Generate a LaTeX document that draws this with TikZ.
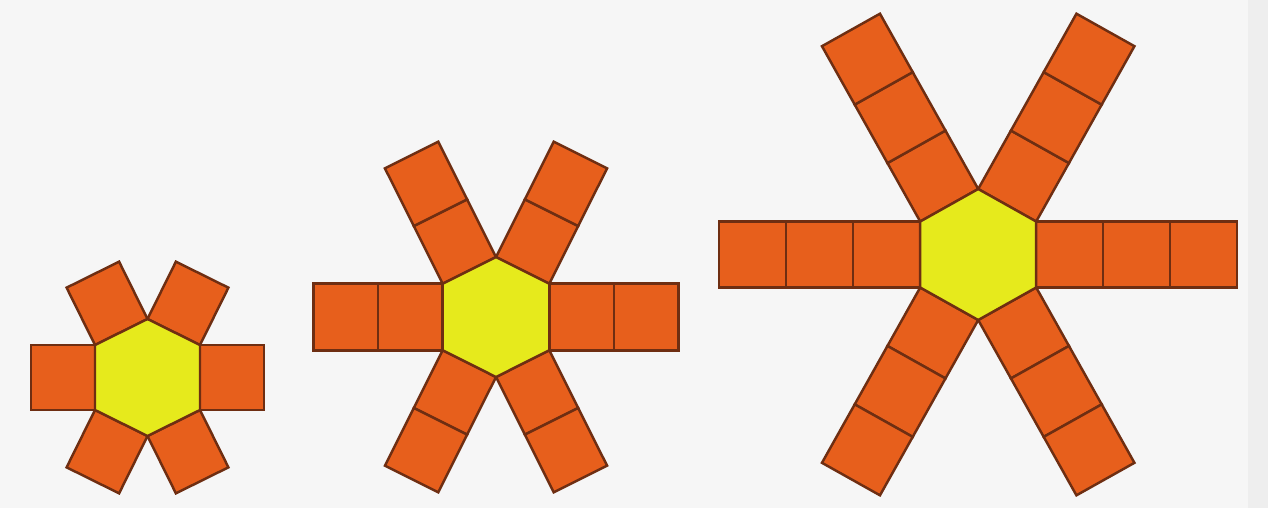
\documentclass[tikz,border=0pt]{standalone}
\usetikzlibrary{calc}
\definecolor{bgc}{HTML}{F6F6F6}
\definecolor{bgstrip}{HTML}{EEEEEE}
\definecolor{orangefill}{HTML}{E75F1C}
\definecolor{edgec}{HTML}{6E2E12}
\definecolor{hexfill}{HTML}{E6EA1C}
\tikzset{
  sqbox/.style={fill=orangefill, draw=edgec, line width=1.4pt, line join=miter},
  hexbox/.style={fill=hexfill, draw=edgec, line width=1.4pt, line join=miter}
}
\begin{document}
\begin{tikzpicture}[x=0.02cm,y=-0.02cm]
\useasboundingbox (0,0) rectangle (1268,508);
\fill[bgc] (0,0) rectangle (1268,508);
\fill[bgstrip] (1248,0) rectangle (1268,508);
\foreach \cx/\cy/\a/\h/\t/\L/\n in {147.5/377.5/52.5/32.5/58.5/64/1, 496/317/53.3/33.3/60/64.5/2, 978.2/254.5/58/33/65.5/67/3}{
  \coordinate (v1) at ({\cx-\a},{\cy-\h});
  \coordinate (v2) at ({\cx},{\cy-\t});
  \coordinate (v3) at ({\cx+\a},{\cy-\h});
  \coordinate (v4) at ({\cx+\a},{\cy+\h});
  \coordinate (v5) at ({\cx},{\cy+\t});
  \coordinate (v6) at ({\cx-\a},{\cy+\h});
  \foreach \p/\q in {v1/v2,v2/v3,v3/v4,v4/v5,v5/v6,v6/v1}{
    \foreach \k in {1,...,\n}{
      \pgfmathsetlengthmacro\din{(\k-1)*\L*0.569055}
      \pgfmathsetlengthmacro\dout{\k*\L*0.569055}
      \draw[sqbox] ($(\p)!\din!90:(\q)$) -- ($(\q)!\din!-90:(\p)$) -- ($(\q)!\dout!-90:(\p)$) -- ($(\p)!\dout!90:(\q)$) -- cycle;
    }
  }
  \draw[hexbox] (v1) -- (v2) -- (v3) -- (v4) -- (v5) -- (v6) -- cycle;
}
\end{tikzpicture}
\end{document}
